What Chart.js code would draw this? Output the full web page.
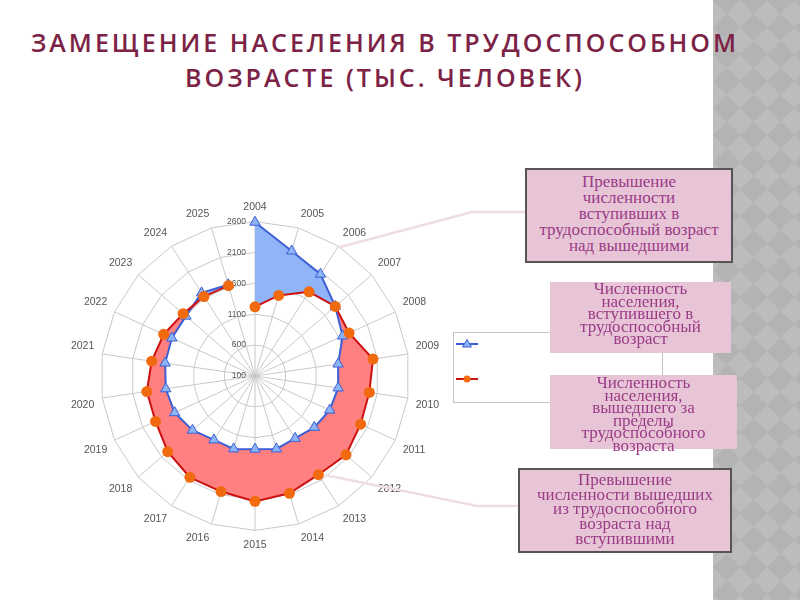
<!DOCTYPE html>
<html>
<head>
<meta charset="utf-8">
<script src="https://cdn.jsdelivr.net/npm/chart.js@4"></script>
<style>
  html, body { margin: 0; padding: 0; background: #fff; }
  body { width: 800px; height: 600px; position: relative; overflow: hidden; font-family: "Open Sans", sans-serif; }
  .stripe {
    position: absolute; left: 713px; top: 0; width: 87px; height: 600px;
    background: conic-gradient(from 45deg, #bcbcbc 25%, #b3b3b3 0 50%, #bcbcbc 0 75%, #b3b3b3 0);
    background-size: 27px 27px;
  }
  .title {
    position: absolute; left: 0; width: 770px; top: 25px; text-align: center;
    color: #7b2246; font-weight: 600; font-size: 25px; line-height: 35px; letter-spacing: 3px;
  }
  #wrap { position: absolute; left: 69px; top: 202px; width: 374px; height: 350px; }
  .legend { position: absolute; left: 453px; top: 332px; width: 208px; height: 69px; border: 1px solid #c4c4c4; background: #fff; }
  .box {
    position: absolute; background: #e7c5d7; color: #9a3b86; text-align: center;
    font-family: "Liberation Serif", "DejaVu Serif", serif; font-size: 17px; box-sizing: border-box;
  }
  .bordered { border: 2px solid #555; }
  svg.over { position: absolute; left: 0; top: 0; }
</style>
</head>
<body>
<div class="stripe"></div>
<div class="title">ЗАМЕЩЕНИЕ НАСЕЛЕНИЯ В ТРУДОСПОСОБНОМ<br>ВОЗРАСТЕ (ТЫС. ЧЕЛОВЕК)</div>

<div id="wrap"><canvas id="radar"></canvas></div>

<div class="legend">
  <svg width="208" height="69">
    <line x1="2" y1="11" x2="24" y2="11" stroke="#3d5fd6" stroke-width="2"/>
    <polygon points="13,6.5 17.5,14 8.5,14" fill="#8cb4f5" stroke="#3d5fd6" stroke-width="1"/>
    <line x1="2" y1="46" x2="24" y2="46" stroke="#cc1010" stroke-width="2"/>
    <circle cx="13" cy="46" r="3.5" fill="#f26a10"/>
  </svg>
</div>

<svg class="over" width="800" height="600">
  <polyline points="527,212 472,212 340,247" fill="none" stroke="#f0dce5" stroke-width="2.5"/>
  <polyline points="520,506 477,506 325,475" fill="none" stroke="#f0dce5" stroke-width="2.5"/>
</svg>

<div class="box bordered" style="left:525px;top:168px;width:208px;height:95px;line-height:16px;padding-top:4px;">Превышение<br>численности<br>вступивших в<br>трудоспособный возраст<br>над вышедшими</div>
<div class="box" style="left:550px;top:282px;width:181px;height:71px;line-height:12.5px;padding-top:1px;">Численность<br>населения,<br>вступившего в<br>трудоспособный<br>возраст</div>
<div class="box" style="left:550px;top:375px;width:187px;height:74px;line-height:12.5px;padding-top:2px;">Численность<br>населения,<br>вышедшего за<br>пределы<br>трудоспособного<br>возраста</div>
<div class="box bordered" style="left:518px;top:468px;width:214px;height:85px;line-height:14.7px;padding-top:3px;">Превышение<br>численности вышедших<br>из трудоспособного<br>возраста над<br>вступившими</div>

<script>
const years = ['2004', '2005', '2006', '2007', '2008', '2009', '2010', '2011', '2012', '2013', '2014',
               '2015', '2016', '2017', '2018', '2019', '2020', '2021', '2022', '2023', '2024', '2025'];
// entered working age (thousand people)
const entered = [2590, 2210, 2060, 1820, 1660, 1460, 1460, 1430, 1370, 1300, 1330,
                 1285, 1330, 1330, 1440, 1530, 1560, 1570, 1580, 1580, 1700, 1640];
// left working age
const retired = [1220, 1460, 1720, 1820, 1775, 2030, 1970, 1980, 2050, 2000, 2080,
                 2130, 2050, 2050, 1970, 1870, 1870, 1790, 1725, 1640, 1630, 1625];
const tickValues = [100, 600, 1100, 1600, 2100, 2600];

// lower envelope, so each series only fills where it exceeds the other
const lower = entered.map((v, i) => Math.min(v, retired[i]));

// tick labels sit left of the 2004 spoke, "100" included
const tickLabels = {
    id: 'tickLabels',
    beforeDatasetsDraw(chart) {
        const r = chart.scales.r;
        const ctx = chart.ctx;
        ctx.save();
        ctx.font = '8.5px "Liberation Sans", Arial, sans-serif';
        ctx.fillStyle = '#555';
        ctx.textAlign = 'right';
        ctx.textBaseline = 'middle';
        tickValues.forEach(v => {
            ctx.fillText(String(v), r.xCenter - 9, r.yCenter - r.getDistanceFromCenterForValue(v));
        });
        ctx.restore();
    }
};

// the original does not join 2025 back to 2004: cache open segments,
// then restore _loop so the filler still works by angle
const openLines = {
    id: 'openLines',
    afterDatasetsUpdate(chart) {
        chart.data.datasets.forEach((ds, i) => {
            const line = chart.getDatasetMeta(i).dataset;
            line._loop = false;
            line._fullLoop = false;
            line._segments = undefined;
            line._path = undefined;
            line.segments;
            line._loop = true;
        });
    }
};

const chart = new Chart(document.getElementById('radar'), {
    type: 'radar',
    data: {
        labels: years,
        datasets: [
            {
                label: 'Численность населения, вступившего в трудоспособный возраст',
                data: entered,
                borderColor: '#3d5fd6',
                borderWidth: 2,
                backgroundColor: '#8fb4f7',
                fill: { target: 2 },
                pointStyle: 'triangle',
                pointRadius: 6,
                pointBackgroundColor: '#8cb4f5',
                pointBorderColor: '#3d5fd6',
                pointBorderWidth: 1,
                order: 2
            },
            {
                label: 'Численность населения, вышедшего за пределы трудоспособного возраста',
                data: retired,
                borderColor: '#cc1010',
                borderWidth: 2,
                backgroundColor: '#ff8080',
                fill: { target: 2 },
                pointStyle: 'circle',
                pointRadius: 5.5,
                pointBackgroundColor: '#f26a10',
                pointBorderColor: '#f26a10',
                pointBorderWidth: 0,
                order: 1
            },
            {
                label: 'lower',
                data: lower,
                borderWidth: 0,
                borderColor: 'rgba(0,0,0,0)',
                pointRadius: 0,
                fill: false,
                order: 3
            }
        ]
    },
    options: {
        responsive: true,
        maintainAspectRatio: false,
        animation: false,
        elements: { line: { tension: 0 } },
        plugins: {
            legend: { display: false },
            tooltip: { enabled: false },
            filler: { drawTime: 'beforeDatasetsDraw' }
        },
        scales: {
            r: {
                min: 100,
                max: 2600,
                ticks: { stepSize: 500, display: false },
                grid: { color: '#c8c8c8', circular: false },
                angleLines: { color: '#c8c8c8' },
                pointLabels: {
                    color: '#555',
                    padding: 8,
                    font: { family: '"Liberation Sans", Arial, sans-serif', size: 10.5 }
                }
            }
        }
    },
    plugins: [tickLabels, openLines]
});
</script>
</body>
</html>
